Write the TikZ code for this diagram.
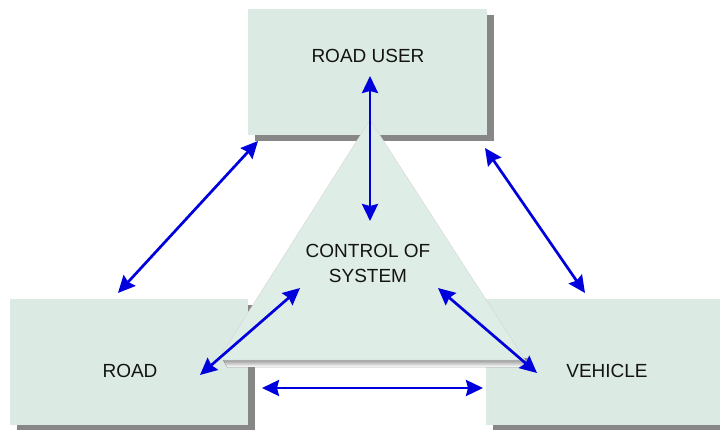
\documentclass[tikz,border=0pt]{standalone}
\usepackage{fontspec}
\setmainfont{Liberation Sans}
\usetikzlibrary{arrows.meta,shadows}
\definecolor{boxfill}{RGB}{220,234,228}
\definecolor{trifill}{RGB}{223,237,231}
\definecolor{shade}{RGB}{135,135,135}
\definecolor{arrowblue}{RGB}{0,0,220}
\definecolor{txt}{RGB}{20,20,20}

\begin{document}
\begin{tikzpicture}[x=1pt,y=-1pt,
  box/.style={fill=boxfill, inner sep=0pt, anchor=north west,
    drop shadow={shadow xshift=7pt, shadow yshift=-6pt, fill=shade, opacity=1}},
  lbl/.style={text=txt, font=\fontsize{19}{25}\selectfont, align=center, inner sep=0pt},
  link/.style={arrowblue, line width=2.7pt,
    {Stealth[length=17pt,width=16pt,inset=2pt]}-{Stealth[length=17pt,width=16pt,inset=2pt]}}]
\useasboundingbox (0,0) rectangle (720,430);
\clip (0,0) rectangle (720,430);
\node[box, minimum width=239pt, minimum height=126pt] (user) at (248,9) {}; % road user
\node[box, minimum width=238pt, minimum height=126pt] (road) at (10,299) {}; % road
\node[box, minimum width=245pt, minimum height=126pt] (veh) at (486,299) {}; % vehicle
\coordinate (apex) at (370,120);
\coordinate (baseL) at (218,360);
\coordinate (baseR) at (525,360);
\fill[shade] (222,358) -- (527,358) -- (530,367) -- (227,367) -- cycle; % base shadow
\fill[trifill, draw=shade!35, line width=0.4pt] (apex) -- (baseR) -- (baseL) -- cycle; % control
\node[lbl] (userlbl) at (368,56) {ROAD USER};
\node[lbl] (ctrllbl) at (368,263) {CONTROL OF\\SYSTEM};
\node[lbl] (roadlbl) at (130,371) {ROAD};
\node[lbl] (vehlbl) at (607,371) {VEHICLE};
\coordinate (u1) at (370,76);   \coordinate (c1) at (370,221);
\coordinate (u2) at (258,141);  \coordinate (r2) at (118,293);
\coordinate (u3) at (485,148);  \coordinate (v3) at (585,293);
\coordinate (c4) at (300,288);  \coordinate (r4) at (200,375);
\coordinate (c5) at (438,288);  \coordinate (v5) at (537,373);
\coordinate (r6) at (262,388);  \coordinate (v6) at (483,388);
\draw[link] (u1) -- (c1); % user - control
\draw[link] (u2) -- (r2); % user - road
\draw[link] (u3) -- (v3); % user - vehicle
\draw[link] (c4) -- (r4); % control - road
\draw[link] (c5) -- (v5); % control - vehicle
\draw[link] (r6) -- (v6); % road - vehicle
\end{tikzpicture}
\end{document}
